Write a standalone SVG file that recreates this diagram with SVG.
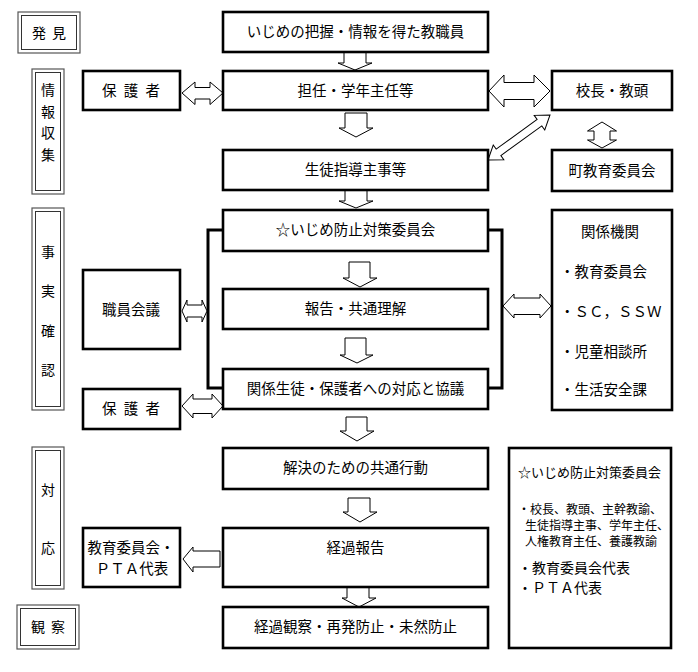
<svg xmlns="http://www.w3.org/2000/svg" width="698" height="672" viewBox="0 0 698 672">
<style>
text{font-family:"Noto Sans CJK JP","Noto Sans CJK SC",sans-serif;fill:#000}
.m{font-size:14.5px;text-anchor:middle}
.lb{font-size:14px;text-anchor:middle}
.box{fill:#fff;stroke:#000;stroke-width:2.6}
.o{fill:#fff;stroke:#555;stroke-width:1.2}
.i{fill:none;stroke:#333;stroke-width:1}
.ar{fill:#fff;stroke:#000;stroke-width:1;stroke-linejoin:miter}
.br{fill:none;stroke:#000;stroke-width:3}
</style>
<rect width="698" height="672" fill="#fff"/>

<!-- stage labels -->
<g id="stage-hakken">
<rect class="o" x="18" y="12" width="62" height="41"/><rect class="i" x="21.5" y="15.5" width="55" height="34"/>
<text class="lb" x="49" y="38" word-spacing="3">発 見</text>
</g>
<g id="stage-joho">
<rect class="o" x="32" y="69" width="32" height="125"/><rect class="i" x="35.5" y="72.5" width="25" height="118"/>
<text class="lb" x="48" y="95">情</text><text class="lb" x="48" y="117">報</text><text class="lb" x="48" y="138">収</text><text class="lb" x="48" y="160">集</text>
</g>
<g id="stage-jijitsu">
<rect class="o" x="32" y="208" width="32" height="202"/><rect class="i" x="35.5" y="211.5" width="25" height="195"/>
<text class="lb" x="48" y="257">事</text><text class="lb" x="48" y="296">実</text><text class="lb" x="48" y="336">確</text><text class="lb" x="48" y="375">認</text>
</g>
<g id="stage-taio">
<rect class="o" x="32" y="447" width="32" height="142"/><rect class="i" x="35.5" y="450.5" width="25" height="135"/>
<text class="lb" x="48" y="495">対</text><text class="lb" x="48" y="553">応</text>
</g>
<g id="stage-kansatsu">
<rect class="o" x="17" y="605" width="62" height="44"/><rect class="i" x="20.5" y="608.5" width="55" height="37"/>
<text class="lb" x="48" y="632" word-spacing="3">観 察</text>
</g>

<!-- connectors -->
<g id="connectors">
<!-- bracket -->
<polyline class="br" points="223,230 208,230 208,388 223,388"/>
<polyline class="br" points="488,230 502,230 502,388 488,388"/>
<!-- down arrows -->
<polygon class="ar" points="344,52 366,52 366,63 372,63 355,70 338,63 344,63"/>
<polygon class="ar" points="345,113 367,113 367,128 373,128 356,137 339,128 345,128"/>
<polygon class="ar" points="345,190 367,190 367,201 373,201 356,208 339,201 345,201"/>
<polygon class="ar" points="349,262 370,262 370,278 377,278 360,287 343,278 349,278"/>
<polygon class="ar" points="345,338 366,338 366,355 373,355 357,363 340,355 345,355"/>
<polygon class="ar" points="346,417 367,417 367,431 374,431 357,441 340,431 346,431"/>
<polygon class="ar" points="348,498 370,498 370,512 377,512 360,522 343,512 348,512"/>
<polygon class="ar" points="347,587 369,587 369,598 376,598 359,607 342,598 347,598"/>
<!-- horizontal double arrows -->
<polygon class="ar" points="182,93 195,82 195,87.5 210,87.5 210,82 223,93 210,104.5 210,99 195,99 195,104.5"/>
<polygon class="ar" points="489,91 504,75 504,82.5 534,82.5 534,75 550,91 534,107 534,99.5 504,99.5 504,107"/>
<polygon class="ar" points="182,311 187,300 187,305 202,305 202,300 207,311 202,322 202,317 187,317 187,322"/>
<polygon class="ar" points="182,406 193,394 193,399 212,399 212,394 223,406 212,418 212,413.5 193,413.5 193,418"/>
<polygon class="ar" points="503,306 514,294 514,298 540,298 540,294 551,306 540,318 540,314.5 514,314.5 514,318"/>
<!-- vertical double arrow -->
<polygon class="ar" points="602,122 616.5,131 610,131 610,140 616.5,140 602,148 587.5,140 594,140 594,131 587.5,131"/>
<!-- diagonal double arrow -->
<polygon class="ar" transform="translate(488,160) rotate(-35.97)" points="0,0 13,-9 13,-4 63.6,-4 63.6,-9 76.6,0 63.6,9 63.6,4 13,4 13,9"/>
<!-- left single arrow -->
<polygon class="ar" points="183,559 193,547 193,551 220,551 220,567 193,567 193,572"/>
</g>

<!-- main column -->
<g id="n-hakken"><rect class="box" x="223" y="12" width="265" height="40"/><text class="m" x="355.5" y="37">いじめの把握・情報を得た教職員</text></g>
<g id="n-tannin"><rect class="box" x="223" y="71" width="265" height="39"/><text class="m" x="355.5" y="96">担任・学年主任等</text></g>
<g id="n-seito"><rect class="box" x="223" y="150" width="265" height="40"/><text class="m" x="355.5" y="175">生徒指導主事等</text></g>
<g id="n-iinkai"><rect class="box" x="223" y="210" width="265" height="41"/><text class="m" x="355.5" y="235">☆いじめ防止対策委員会</text></g>
<g id="n-hokoku"><rect class="box" x="223" y="289" width="265" height="40"/><text class="m" x="355.5" y="314">報告・共通理解</text></g>
<g id="n-kankei"><rect class="box" x="223" y="369" width="265" height="40"/><text class="m" x="355.5" y="394">関係生徒・保護者への対応と協議</text></g>
<g id="n-kaiketsu"><rect class="box" x="223" y="448" width="265" height="41"/><text class="m" x="355.5" y="473">解決のための共通行動</text></g>
<g id="n-keika"><rect class="box" x="223" y="528" width="265" height="59"/><text class="m" x="355.5" y="553">経過報告</text></g>
<g id="n-kansatsu"><rect class="box" x="223" y="607" width="265" height="41"/><text class="m" x="355.5" y="632">経過観察・再発防止・未然防止</text></g>

<!-- left column -->
<g id="n-hogosha1"><rect class="box" x="83" y="71" width="97" height="39"/><text class="m" x="131" y="96" word-spacing="4">保 護 者</text></g>
<g id="n-shokuin"><rect class="box" x="83" y="270" width="97" height="79"/><text class="m" x="131" y="315">職員会議</text></g>
<g id="n-hogosha2"><rect class="box" x="83" y="389" width="97" height="40"/><text class="m" x="131" y="414" word-spacing="4">保 護 者</text></g>
<g id="n-kyoiku-pta"><rect class="box" x="83" y="528" width="97" height="59"/><text class="m" x="131" y="553">教育委員会・</text><text class="m" x="132" y="574">ＰＴＡ代表</text></g>

<!-- right column -->
<g id="n-kocho"><rect class="box" x="552" y="71" width="120" height="39"/><text class="m" x="612" y="96">校長・教頭</text></g>
<g id="n-machi"><rect class="box" x="552" y="150" width="120" height="41"/><text class="m" x="612" y="176">町教育委員会</text></g>
<g id="n-kikan"><rect class="box" x="552" y="210" width="120" height="200"/>
<text class="m" x="610" y="237">関係機関</text>
<text x="560" y="277" font-size="14.5">・教育委員会</text>
<text x="560" y="317" font-size="14.5">・ＳＣ，ＳＳＷ</text>
<text x="560" y="357" font-size="14.5">・児童相談所</text>
<text x="560" y="395" font-size="14.5">・生活安全課</text>
</g>
<g id="n-member"><rect class="box" x="509" y="448" width="162" height="200" stroke-width="2.2"/>
<text x="518" y="477" font-size="13">☆いじめ防止対策委員会</text>
<text x="518" y="514" font-size="12">・校長、教頭、主幹教諭、</text>
<text x="525" y="530" font-size="12">生徒指導主事、学年主任、</text>
<text x="525" y="546" font-size="12">人権教育主任、養護教諭</text>
<text x="518" y="573" font-size="14">・教育委員会代表</text>
<text x="518" y="593" font-size="14">・ＰＴＡ代表</text>
</g>
</svg>
